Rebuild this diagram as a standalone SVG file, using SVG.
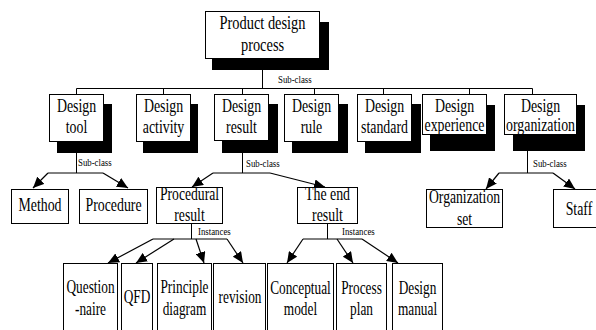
<svg xmlns="http://www.w3.org/2000/svg" width="596" height="330" viewBox="0 0 596 330">
<defs>
<marker id="ah" markerUnits="userSpaceOnUse" markerWidth="12" markerHeight="10" refX="11" refY="5" orient="auto">
<path d="M0,0 L11,5 L0,10 Z" fill="#000"/>
</marker>
<style>
.box{fill:#fff;stroke:#000;stroke-width:1}
.sh{fill:#000}
.t{font-family:"Liberation Serif","Times New Roman",serif;font-size:18px;text-anchor:middle;fill:#000}
.s{font-family:"Liberation Serif","Times New Roman",serif;font-size:11px;fill:#000}
.ln{fill:none;stroke:#000;stroke-width:1}
.ar{fill:none;stroke:#000;stroke-width:1.2;marker-end:url(#ah)}
</style>
</defs>
<rect width="596" height="330" fill="#fff"/>
<g id="connectors">
<path class="ln" d="M262.5,58 V88.5 M76.5,88.5 H532.5 M76.5,88.5 V94 M163.5,88.5 V94 M242.5,88.5 V94 M314.5,88.5 V94 M383.5,88.5 V94 M469.5,88.5 V94 M532.5,88.5 V94"/>
<path class="ln" d="M76.5,153 V173 M48,173 H103"/>
<path class="ar" d="M48,173 L33,188"/>
<path class="ar" d="M103,173 L128,188"/>
<path class="ln" d="M242.5,153 V173 M213,173 H270"/>
<path class="ar" d="M213,173 L192,187"/>
<path class="ar" d="M270,173 L325,187"/>
<path class="ln" d="M527.5,151 V173 M499,173 H553"/>
<path class="ar" d="M499,173 L486,189"/>
<path class="ar" d="M553,173 L575,189"/>
<path class="ln" d="M191.5,224 V239 M153,239 H227"/>
<path class="ar" d="M153,239 L108,263"/>
<path class="ar" d="M174,239 L136,263"/>
<path class="ar" d="M196,239 L204,263"/>
<path class="ar" d="M227,239 L243,263"/>
<path class="ln" d="M327.5,224 V239 M303,239 H362"/>
<path class="ar" d="M303,239 L287,263"/>
<path class="ar" d="M337,239 L353,263"/>
<path class="ar" d="M362,239 L398,263"/>
<text class="s" transform="translate(278 83) scale(.8 1)">Sub-class</text>
<text class="s" transform="translate(78 166) scale(.8 1)">Sub-class</text>
<text class="s" transform="translate(246 167) scale(.8 1)">Sub-class</text>
<text class="s" transform="translate(533 167) scale(.8 1)">Sub-class</text>
<text class="s" transform="translate(198 235) scale(.8 1)">Instances</text>
<text class="s" transform="translate(342 235) scale(.8 1)">Instances</text>
</g>
<g id="product-design-process">
<rect class="sh" x="212" y="22" width="117" height="48"/>
<rect class="box" x="205.5" y="11.5" width="114" height="47"/>
<text class="t" transform="translate(262.5 29) scale(.8 1)">Product design</text>
<text class="t" transform="translate(262.5 51) scale(.8 1)">process</text>
</g>
<g id="design-tool">
<rect class="sh" x="57" y="104" width="55" height="49"/>
<rect class="box" x="49.5" y="94.5" width="54" height="47"/>
<text class="t" transform="translate(76.5 112) scale(.77 1)">Design</text>
<text class="t" transform="translate(76.5 133) scale(.77 1)">tool</text>
</g>
<g id="design-activity">
<rect class="sh" x="143" y="104" width="55" height="49"/>
<rect class="box" x="136.5" y="94.5" width="54" height="47"/>
<text class="t" transform="translate(163.5 112) scale(.77 1)">Design</text>
<text class="t" transform="translate(163.5 133) scale(.77 1)">activity</text>
</g>
<g id="design-result">
<rect class="sh" x="222" y="104" width="56" height="49"/>
<rect class="box" x="214.5" y="94.5" width="54" height="46"/>
<text class="t" transform="translate(241.5 112) scale(.77 1)">Design</text>
<text class="t" transform="translate(241.5 133) scale(.77 1)">result</text>
</g>
<g id="design-rule">
<rect class="sh" x="292" y="104" width="56" height="49"/>
<rect class="box" x="284.5" y="94.5" width="54" height="47"/>
<text class="t" transform="translate(311.5 112) scale(.77 1)">Design</text>
<text class="t" transform="translate(311.5 133) scale(.77 1)">rule</text>
</g>
<g id="design-standard">
<rect class="sh" x="365" y="104" width="56" height="49"/>
<rect class="box" x="357.5" y="94.5" width="54" height="47"/>
<text class="t" transform="translate(384.5 112) scale(.77 1)">Design</text>
<text class="t" transform="translate(384.5 133) scale(.77 1)">standard</text>
</g>
<g id="design-experience">
<rect class="sh" x="430" y="105" width="65" height="46"/>
<rect class="box" x="422.5" y="94.5" width="64" height="40"/>
<text class="t" transform="translate(454.5 112) scale(.77 1)">Design</text>
<text class="t" transform="translate(454.5 131) scale(.77 1)">experience</text>
</g>
<g id="design-organization">
<rect class="sh" x="513" y="105" width="72" height="46"/>
<rect class="box" x="504.5" y="94.5" width="72" height="40"/>
<text class="t" transform="translate(540.5 112) scale(.77 1)">Design</text>
<text class="t" transform="translate(540.5 131) scale(.77 1)">organization</text>
</g>
<g id="method">
<rect class="box" x="11.5" y="189.5" width="57" height="34"/>
<text class="t" transform="translate(40 211) scale(.77 1)">Method</text>
</g>
<g id="procedure">
<rect class="box" x="79.5" y="189.5" width="68" height="34"/>
<text class="t" transform="translate(113.5 211) scale(.77 1)">Procedure</text>
</g>
<g id="procedural-result">
<rect class="box" x="156.5" y="187.5" width="66" height="36"/>
<text class="t" transform="translate(189.5 200) scale(.76 1)">Procedural</text>
<text class="t" transform="translate(189.5 221) scale(.76 1)">result</text>
</g>
<g id="end-result">
<rect class="box" x="297.5" y="187.5" width="60" height="36"/>
<text class="t" transform="translate(327.5 200) scale(.77 1)">The end</text>
<text class="t" transform="translate(327.5 221) scale(.77 1)">result</text>
</g>
<g id="organization-set">
<rect class="box" x="426.5" y="189.5" width="76" height="38"/>
<text class="t" transform="translate(464.5 203) scale(.76 1)">Organization</text>
<text class="t" transform="translate(464.5 225) scale(.76 1)">set</text>
</g>
<g id="staff">
<rect class="box" x="553.5" y="189.5" width="52" height="38"/>
<text class="t" transform="translate(579 215) scale(.77 1)">Staff</text>
</g>
<g id="questionnaire">
<rect class="box" x="63.5" y="263.5" width="54" height="80"/>
<text class="t" transform="translate(90.5 293) scale(.74 1)">Question</text>
<text class="t" transform="translate(90.5 315) scale(.74 1)">-naire</text>
</g>
<g id="qfd">
<rect class="box" x="121.5" y="263.5" width="31" height="80"/>
<text class="t" transform="translate(137 303) scale(.74 1)">QFD</text>
</g>
<g id="principle-diagram">
<rect class="box" x="157.5" y="263.5" width="54" height="80"/>
<text class="t" transform="translate(184.5 293) scale(.74 1)">Principle</text>
<text class="t" transform="translate(184.5 315) scale(.74 1)">diagram</text>
</g>
<g id="revision">
<rect class="box" x="213.5" y="263.5" width="52" height="80"/>
<text class="t" transform="translate(240 303) scale(.74 1)">revision</text>
</g>
<g id="conceptual-model">
<rect class="box" x="267.5" y="263.5" width="66" height="80"/>
<text class="t" transform="translate(300.5 294) scale(.74 1)">Conceptual</text>
<text class="t" transform="translate(300.5 315) scale(.74 1)">model</text>
</g>
<g id="process-plan">
<rect class="box" x="336.5" y="263.5" width="50" height="80"/>
<text class="t" transform="translate(361.5 294) scale(.74 1)">Process</text>
<text class="t" transform="translate(361.5 315) scale(.74 1)">plan</text>
</g>
<g id="design-manual">
<rect class="box" x="392.5" y="263.5" width="50" height="80"/>
<text class="t" transform="translate(417.5 294) scale(.74 1)">Design</text>
<text class="t" transform="translate(417.5 315) scale(.74 1)">manual</text>
</g>
</svg>
